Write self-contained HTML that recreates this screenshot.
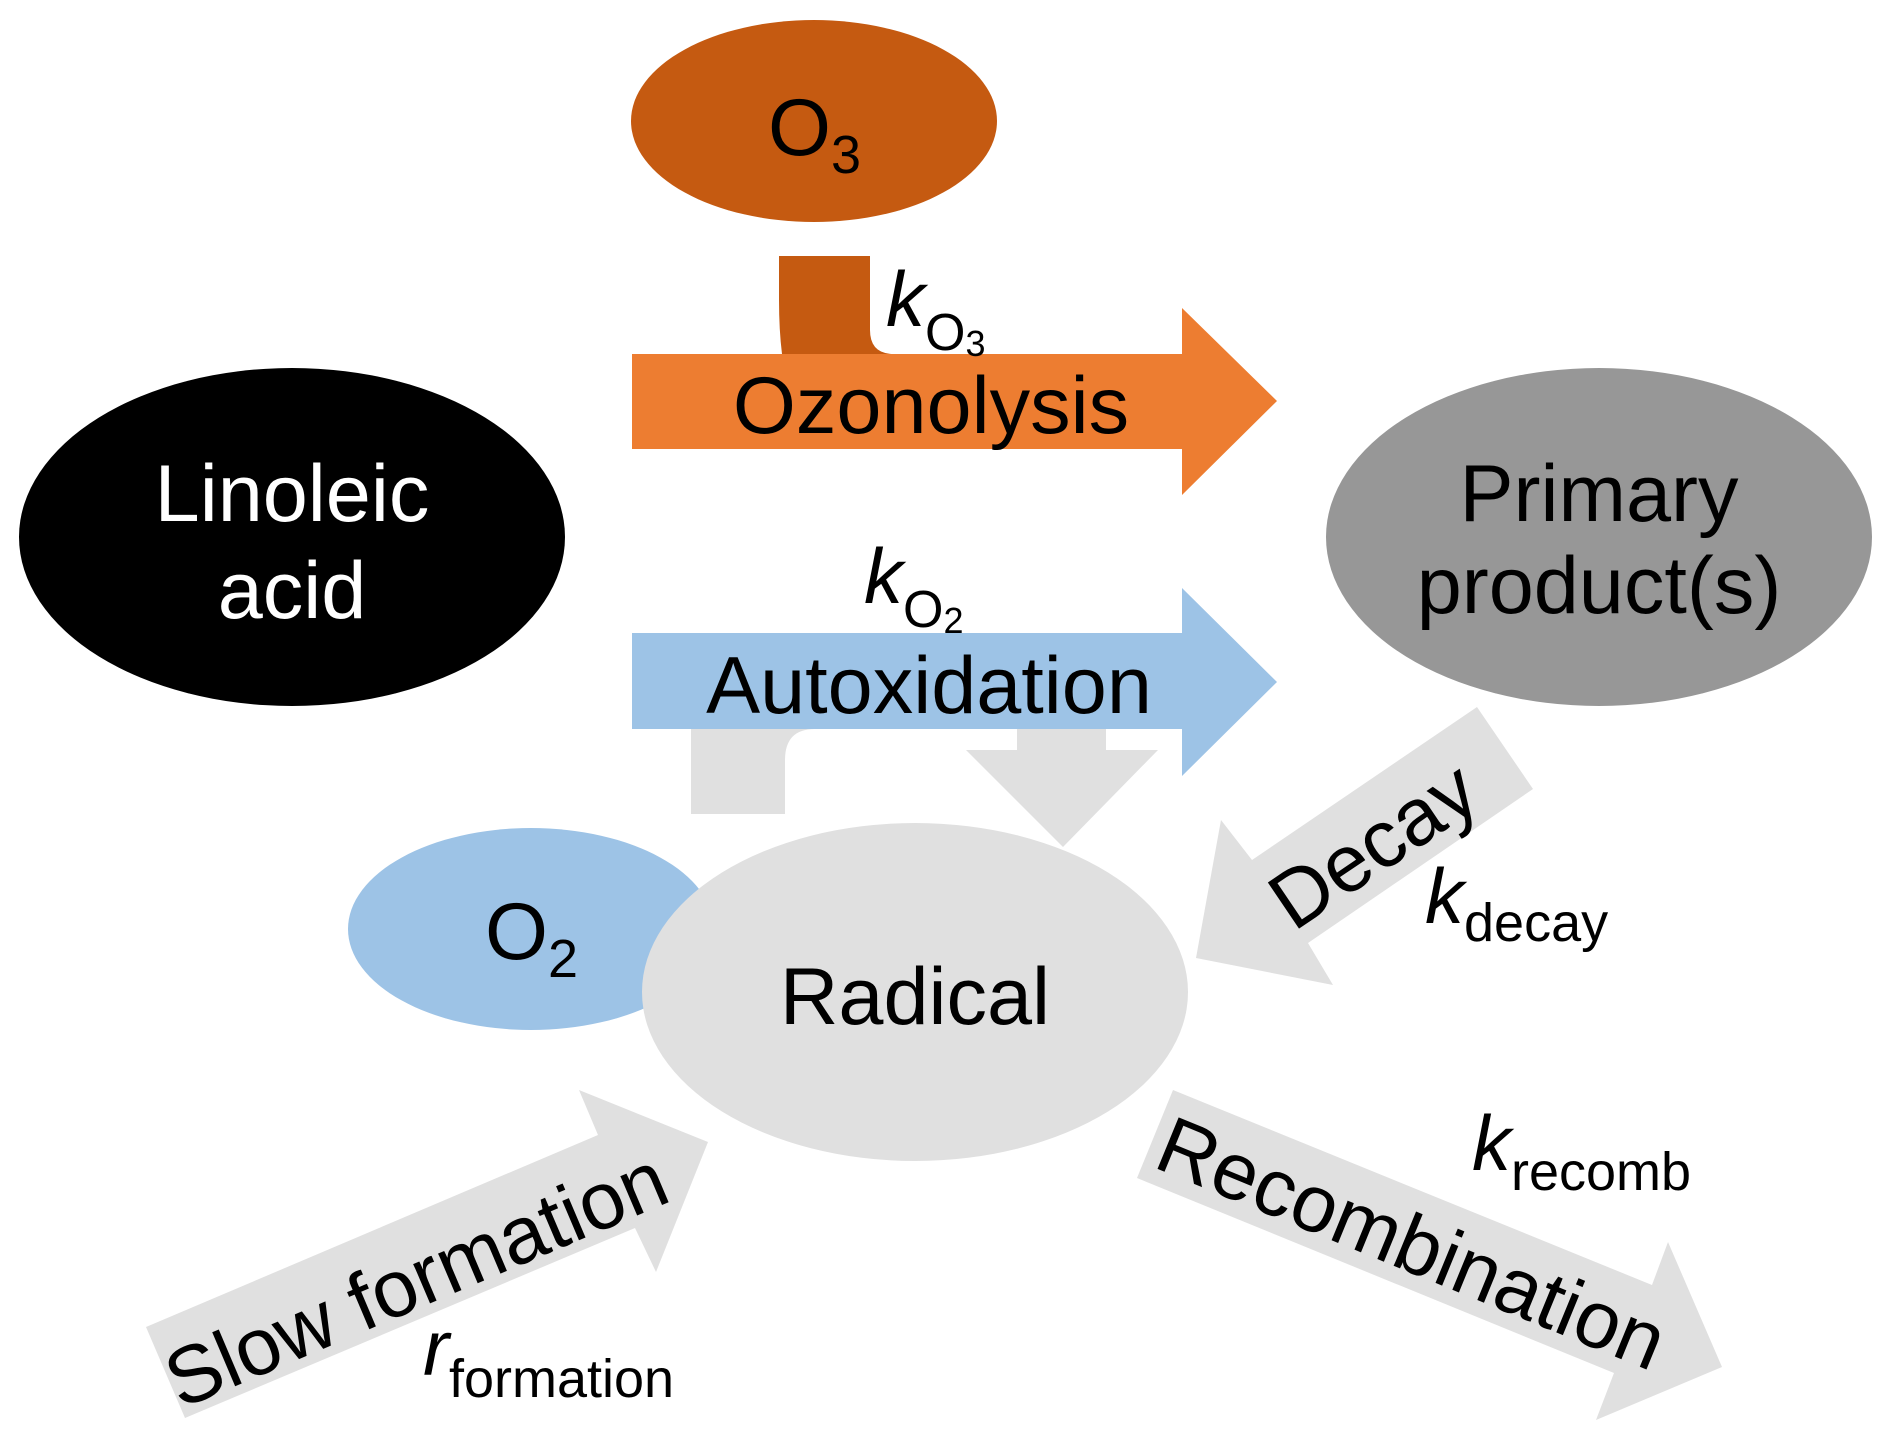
<!DOCTYPE html>
<html><head><meta charset="utf-8"><style>
html,body{margin:0;padding:0;background:#fff;}
svg{display:block;}
text{font-family:"Liberation Sans",Arial,sans-serif;}
</style></head><body>
<svg width="1892" height="1440" viewBox="0 0 1892 1440" xmlns="http://www.w3.org/2000/svg">
<ellipse cx="814" cy="121" rx="183" ry="101" fill="#C55A11"/>
<text x="768" y="155" font-size="81">O<tspan font-size="54" dy="18">3</tspan></text>
<path d="M779,256 H870 V330 Q870,354 894,354 H782 Q779,330 779,300 Z" fill="#C55A11"/>
<path d="M691,814 V700 H1106 V750 H1158 L1063,847 L966,750 H1017 V729 H815 Q785,729 785,760 V814 Z" fill="#E0E0E0"/>
<path d="M632,354 H1182 V308 L1277,401 L1182,495 V449 H632 Z" fill="#ED7D31"/>
<text x="931" y="433" font-size="81" text-anchor="middle">Ozonolysis</text>
<text x="886" y="326" font-size="78" font-style="italic">k<tspan font-style="normal" font-size="52" dy="24">O</tspan><tspan font-style="normal" font-size="36" dy="6">3</tspan></text>
<path d="M632,633 H1182 V588 L1277,682 L1182,776 V729 H632 Z" fill="#9DC3E6"/>
<text x="929" y="713" font-size="81" text-anchor="middle">Autoxidation</text>
<text x="864" y="603" font-size="78" font-style="italic">k<tspan font-style="normal" font-size="52" dy="24">O</tspan><tspan font-style="normal" font-size="36" dy="6">2</tspan></text>
<ellipse cx="292" cy="537" rx="273" ry="169" fill="#000"/>
<text x="292" y="521" font-size="81" fill="#fff" text-anchor="middle">Linoleic</text>
<text x="292" y="618" font-size="81" fill="#fff" text-anchor="middle">acid</text>
<ellipse cx="1599" cy="537" rx="273" ry="169" fill="#979797"/>
<text x="1599" y="521" font-size="81" text-anchor="middle">Primary</text>
<text x="1599" y="613" font-size="81" text-anchor="middle">product(s)</text>
<path d="M1477,707 L1533,789 L1308,943 L1333,985 L1196,958 L1221,820 L1252,860 Z" fill="#E0E0E0"/>
<text x="1373" y="873" font-size="81" text-anchor="middle" transform="rotate(-34 1373 845)">Decay</text>
<text x="1425" y="923" font-size="78" font-style="italic">k<tspan font-style="normal" font-size="54" dy="18">decay</tspan></text>
<ellipse cx="531" cy="929" rx="183" ry="101" fill="#9DC3E6"/>
<ellipse cx="915" cy="992" rx="273" ry="169" fill="#E0E0E0"/>
<text x="485" y="959" font-size="81">O<tspan font-size="54" dy="18">2</tspan></text>
<text x="915" y="1024" font-size="81" text-anchor="middle">Radical</text>
<path d="M146,1327 L598,1135 L579,1090 L708,1142 L656,1272 L635,1228 L185,1418 Z" fill="#E0E0E0"/>
<text x="416" y="1307" font-size="81" text-anchor="middle" transform="rotate(-23 416 1279)">Slow formation</text>
<text x="423" y="1375" font-size="78" font-style="italic">r<tspan font-style="normal" font-size="54" dy="22">formation</tspan></text>
<path d="M1173,1090 L1652,1285 L1668,1242 L1722,1367 L1596,1420 L1614,1373 L1137,1178 Z" fill="#E0E0E0"/>
<text x="1412" y="1271" font-size="81" text-anchor="middle" transform="rotate(22.3 1412 1243)">Recombination</text>
<text x="1472" y="1170" font-size="78" font-style="italic">k<tspan font-style="normal" font-size="54" dy="20">recomb</tspan></text>
</svg>
</body></html>
